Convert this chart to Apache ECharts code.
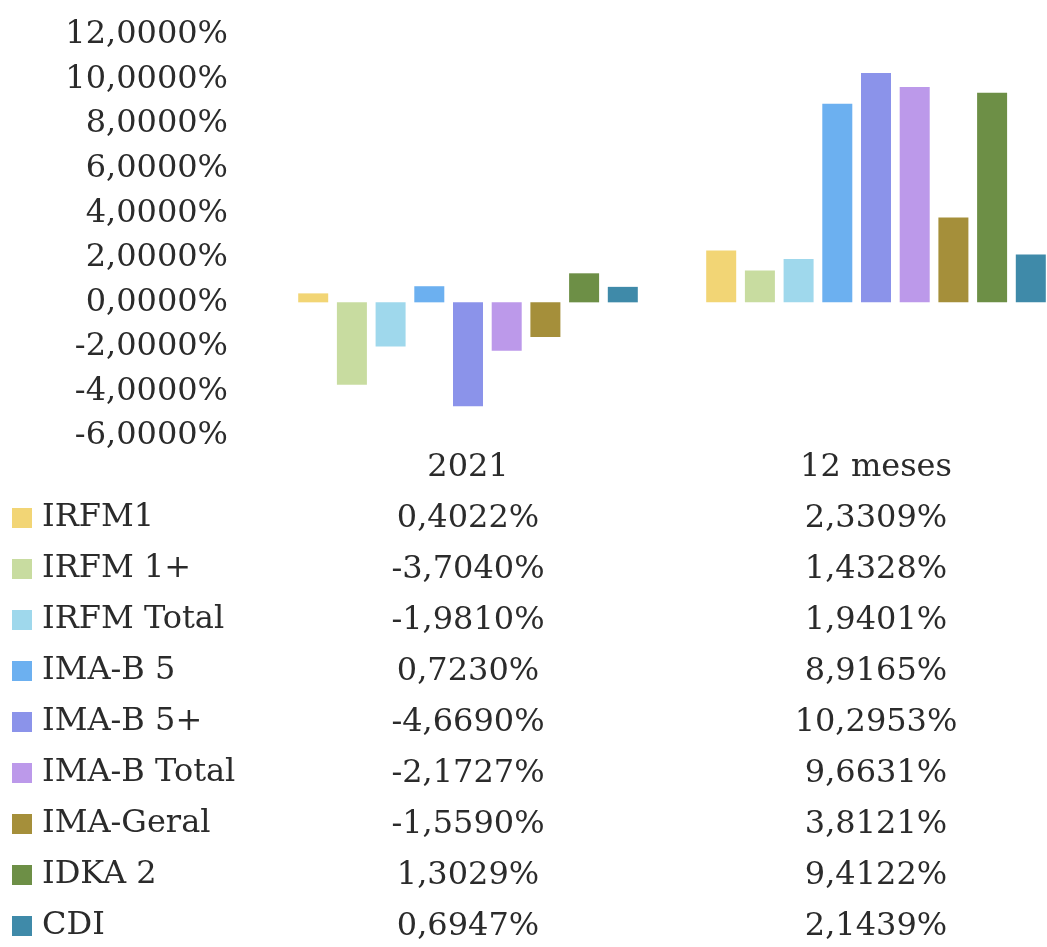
<!DOCTYPE html>
<html>
<head>
<meta charset="utf-8">
<script src="https://cdn.jsdelivr.net/npm/echarts@6/dist/echarts.min.js"></script>
<style>
  html, body { margin: 0; padding: 0; background: #fff; }
  #main { width: 1047px; height: 947px; }
</style>
</head>
<body>
<div id="main"></div>
<script>
var periods = ['2021', '12 meses'];
var indexNames = ['IRFM1', 'IRFM 1+', 'IRFM Total', 'IMA-B 5', 'IMA-B 5+', 'IMA-B Total', 'IMA-Geral', 'IDKA 2', 'CDI'];
var values2021 = [0.4022, -3.7040, -1.9810, 0.7230, -4.6690, -2.1727, -1.5590, 1.3029, 0.6947];
var values12m = [2.3309, 1.4328, 1.9401, 8.9165, 10.2953, 9.6631, 3.8121, 9.4122, 2.1439];
var colors = ['#f2d575', '#c8dca0', '#9fd8ec', '#6cb0f0', '#8b93ea', '#bc99ea', '#a58f3a', '#6d8f46', '#3f8aa9'];

var chartDom = document.getElementById('main');
var myChart = echarts.init(chartDom);
var option;

var fontFamily = 'DejaVu Serif';
var textColor = '#2b2b2b';

function fmt(v) {
  return v.toFixed(4).replace('.', ',') + '%';
}

var byPeriod = [values2021, values12m];

option = {
  color: colors,
  textStyle: { fontFamily: fontFamily },
  legend: {
    orient: 'vertical',
    left: 12,
    top: 502,
    padding: 0,
    height: 445,
    itemWidth: 20,
    itemHeight: 20,
    itemGap: 19,
    icon: 'rect',
    textStyle: {
      fontFamily: fontFamily,
      fontSize: 32,
      color: textColor,
      lineHeight: 32,
      padding: [0, 0, 0, 5]
    },
    data: indexNames
  },
  grid: {
    left: 264,
    width: 816,
    top: 35,
    bottom: 511,
    outerBoundsMode: 'none'
  },
  xAxis: {
    type: 'category',
    data: periods,
    axisLine: { show: false },
    axisTick: { show: false },
    axisLabel: {
      margin: 6,
      fontSize: 32,
      lineHeight: 51,
      color: textColor,
      fontFamily: fontFamily,
      formatter: function (val, idx) {
        var lines = [val];
        byPeriod[idx].forEach(function (v) { lines.push(fmt(v)); });
        return lines.join('\n');
      }
    }
  },
  yAxis: {
    type: 'value',
    min: -6,
    max: 12,
    interval: 2,
    axisLine: { show: false },
    axisTick: { show: false },
    splitLine: { show: false },
    axisLabel: {
      margin: 36,
      fontSize: 32,
      color: textColor,
      fontFamily: fontFamily,
      formatter: function (v) { return fmt(v); }
    }
  },
  series: indexNames.map(function (name, i) {
    return {
      name: name,
      type: 'bar',
      barWidth: 30,
      barGap: '29%',
      itemStyle: { color: colors[i] },
      data: [values2021[i], values12m[i]]
    };
  })
};

option && myChart.setOption(option);
</script>
</body>
</html>
